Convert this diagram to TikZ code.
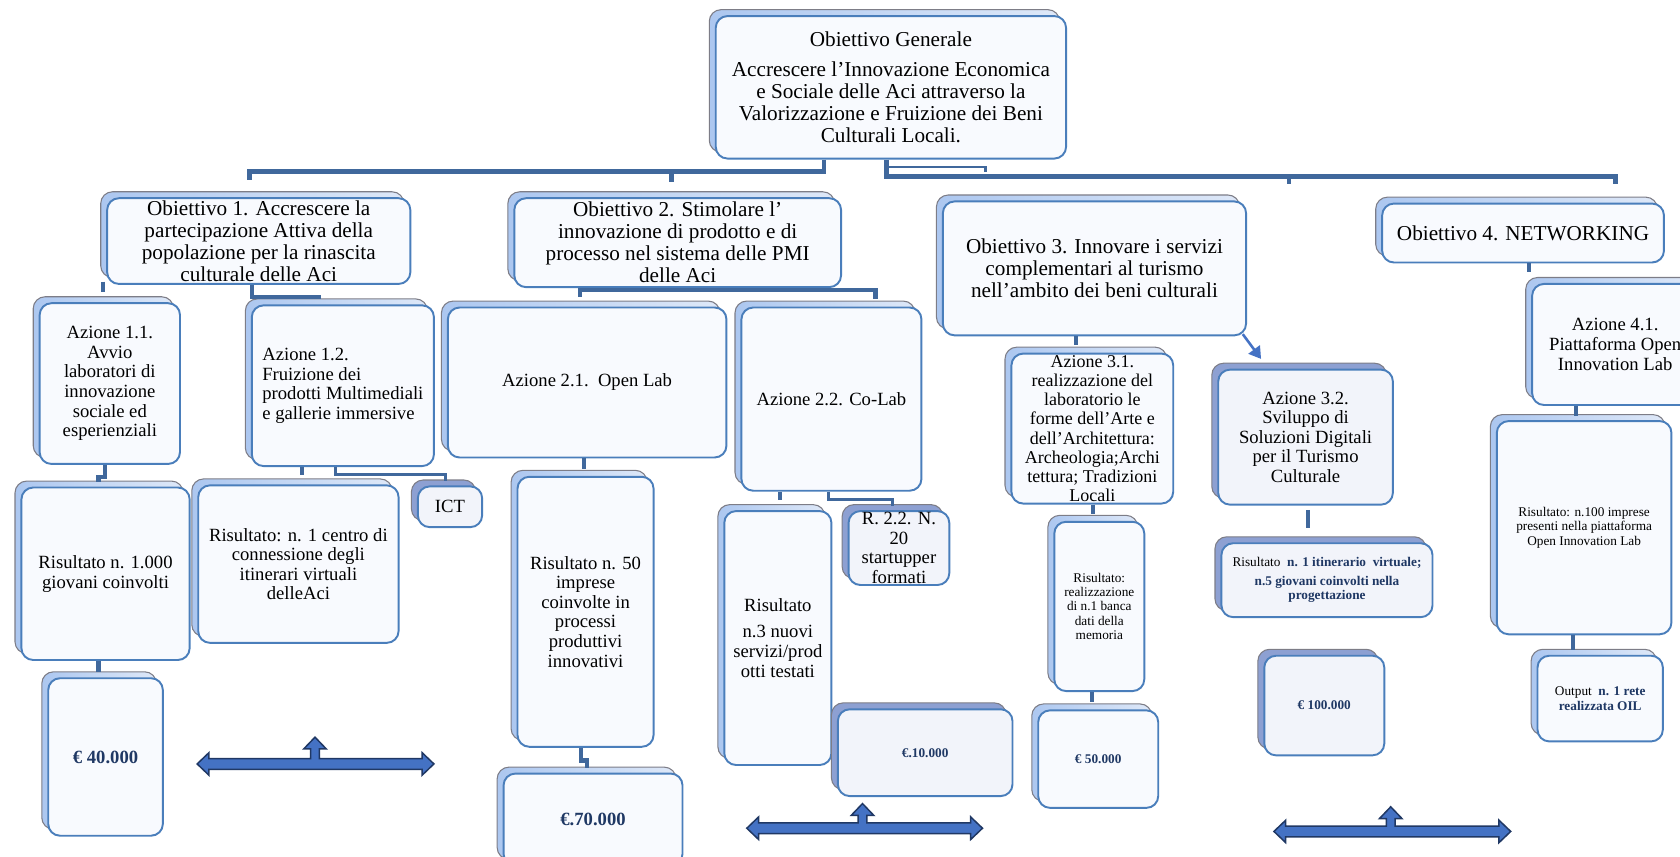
\documentclass[tikz,border=0pt]{standalone}
\usepackage{fontspec}
\setmainfont{Liberation Serif}
\usetikzlibrary{arrows.meta,calc}
\definecolor{boxblue}{RGB}{74,126,187}
\definecolor{frontfill}{RGB}{248,250,254}
\definecolor{frontfilldk}{RGB}{242,244,250}
\definecolor{backlt}{RGB}{172,199,240}
\definecolor{backlt2}{RGB}{222,232,248}
\definecolor{backdk}{RGB}{141,160,210}
\definecolor{backedge}{RGB}{125,125,135}
\definecolor{connblue}{RGB}{64,104,156}
\definecolor{navy}{RGB}{31,56,100}
\definecolor{arrowfill}{RGB}{68,114,196}
\definecolor{arrowedge}{RGB}{32,56,100}
\newcommand\fbig{\fontsize{19.8}{20.5}\selectfont}
\newcommand\fmid{\fontsize{17.4}{18.3}\selectfont}
\newcommand\fsml{\fontsize{12.4}{13.3}\selectfont}
\tikzset{
 backlight/.style={draw=backedge, line width=1pt, left color=backlt, right color=backlt2, rounded corners=11pt},
 backdark/.style={draw=backedge, line width=1pt, fill=backdk, rounded corners=11pt},
 frontbox/.style={draw=boxblue, line width=1.8pt, fill=frontfill, rounded corners=11pt, inner sep=0pt},
 frontdk/.style={frontbox, fill=frontfilldk},
 boxtext/.style={align=center, inner sep=0pt},
 conn/.style={draw=connblue, line width=4pt},
 connbar/.style={draw=connblue, line width=4.5pt},
 connthin/.style={draw=connblue, line width=2.6pt},
 connarrow/.style={draw=arrowfill, line width=2.4pt, -{Triangle[length=11pt,width=13pt]}},
 bigarrow/.style={fill=arrowfill, draw=arrowedge, line width=1.4pt, line join=miter}
}
% #1 back style, #2 front style, #3 name, #4 x1, #5 y1, #6 x2, #7 y2, #8 text options, #9 text
\newcommand\obox[9]{%
 \path[#1] ({#4-6},{#5-6}) rectangle ({#6-6},{#7-6});
 \node[#2, minimum width={#6-#4}, minimum height={#7-#5}] (#3) at ({(#4+#6)/2},{(#5+#7)/2}) {};
 \node[boxtext,#8] (#3-t) at (#3.center) {#9};
}
% x1 x2 cy ux ty
\newcommand\dblarrow[5]{%
 \path[bigarrow] (#1,#3) -- ({#1+11},{#3-10.5}) -- ({#1+11},{#3-5}) -- ({#4-4},{#3-5}) -- ({#4-4},{#5+11}) -- ({#4-10.5},{#5+11}) -- (#4,#5) -- ({#4+10.5},{#5+11}) -- ({#4+4},{#5+11}) -- ({#4+4},{#3-5}) -- ({#2-11},{#3-5}) -- ({#2-11},{#3-10.5}) -- (#2,#3) -- ({#2-11},{#3+10.5}) -- ({#2-11},{#3+5}) -- ({#1+11},{#3+5}) -- ({#1+11},{#3+10.5}) -- cycle;
}
\begin{document}
\begin{tikzpicture}[x=1pt,y=-1pt]
\useasboundingbox (0,0) rectangle (1568,799);
\clip (0,0) rectangle (1568,799);

% boxes
\obox{backlight}{frontbox}{main}{668}{15}{995}{148}{font=\fbig}{Obiettivo Generale\\[7.5pt]Accrescere l’Innovazione Economica\\e Sociale delle Aci attraverso la\\Valorizzazione e Fruizione dei Beni\\Culturali Locali.}
\obox{backlight}{frontbox}{ob1}{100}{185}{383}{265}{font=\fbig}{Obiettivo 1. Accrescere la\\partecipazione Attiva della\\popolazione per la rinascita\\culturale delle Aci}
\obox{backlight}{frontbox}{ob2}{480}{185}{785}{268}{font=\fbig}{Obiettivo 2. Stimolare l’\\innovazione di prodotto e di\\processo nel sistema delle PMI\\delle Aci}
\obox{backlight}{frontbox}{ob3}{880}{188}{1163}{313}{font=\fbig}{Obiettivo 3. Innovare i servizi\\complementari al turismo\\nell’ambito dei beni culturali}
\obox{backlight}{frontbox}{ob4}{1290}{190}{1553}{245}{font=\fbig}{Obiettivo 4. NETWORKING}

\obox{backlight}{frontbox}{az11}{37}{283}{168}{433}{font=\fmid}{Azione 1.1.\\Avvio\\laboratori di\\innovazione\\sociale ed\\esperienziali}
\obox{backlight}{frontbox}{az12}{235}{285}{405}{435}{font=\fmid, align=left}{Azione 1.2.\\Fruizione dei\\prodotti Multimediali\\e gallerie immersive}
\obox{backlight}{frontbox}{r11}{20}{455}{177}{616}{font=\fmid}{Risultato n. 1.000\\giovani coinvolti}
\obox{backlight}{frontbox}{r12}{185}{453}{372}{600}{font=\fmid}{Risultato: n. 1 centro di\\connessione degli\\itinerari virtuali\\delleAci}
\obox{backdark}{frontdk}{ict}{390}{454}{450}{492}{font=\fmid}{ICT}
\obox{backlight}{frontbox}{e40}{45}{633}{152}{780}{font=\fmid\bfseries, text=navy}{€ 40.000}

\obox{backlight}{frontbox}{az21}{418}{287}{678}{427}{font=\fmid}{Azione 2.1.\ \ Open Lab}
\obox{backlight}{frontbox}{az22}{692}{287}{860}{458}{font=\fmid}{Azione 2.2. Co-Lab}
\obox{backlight}{frontbox}{r21}{483}{445}{610}{697}{font=\fmid}{Risultato n. 50\\imprese\\coinvolte in\\processi\\produttivi\\innovativi}
\obox{backlight}{frontbox}{e70}{470}{722}{637}{808}{font=\fmid\bfseries, text=navy}{€.70.000}
\obox{backlight}{frontbox}{r22}{676}{477}{776}{714}{font=\fmid}{Risultato\\[6pt]n.3 nuovi\\servizi/prod\\otti testati}
\obox{backdark}{frontdk}{rr22}{792}{477}{886}{546}{font=\fmid}{R. 2.2. N.\\20\\startupper\\formati}
\obox{backdark}{frontdk}{e10}{782}{662}{945}{743}{font=\fsml\bfseries, text=navy}{€.10.000}

\obox{backlight}{frontbox}{az31}{944}{330}{1095}{470}{font=\fontsize{16.8}{17.9}\selectfont}{Azione 3.1.\\realizzazione del\\laboratorio le\\forme dell'Arte e\\dell'Architettura:\\Archeologia;Archi\\tettura; Tradizioni\\Locali}
\obox{backlight}{frontbox}{r31}{984}{487}{1068}{645}{font=\fsml}{Risultato:\\realizzazione\\di n.1 banca\\dati della\\memoria}
\obox{backlight}{frontbox}{e50}{969}{663}{1081}{754}{font=\fsml\bfseries, text=navy}{€ 50.000}
\obox{backdark}{frontdk}{az32}{1137}{345}{1300}{471}{font=\fmid}{Azione 3.2.\\Sviluppo di\\Soluzioni Digitali\\per il Turismo\\Culturale}
\obox{backdark}{frontdk}{r32}{1140}{507}{1337}{576}{font=\fsml}{Risultato\ \ \textcolor{navy}{\textbf{n. 1 itinerario\ \ virtuale;}}\\[4pt]\textcolor{navy}{\textbf{n.5 giovani coinvolti nella}}\\\textcolor{navy}{\textbf{progettazione}}}
\obox{backdark}{frontdk}{e100}{1180}{612}{1292}{705}{font=\fsml\bfseries, text=navy}{€ 100.000}

\obox{backlight}{frontbox}{az41}{1430}{265}{1585}{378}{font=\fmid}{Azione 4.1.\\Piattaforma Open\\Innovation Lab}
\obox{backlight}{frontbox}{r41}{1397}{393}{1560}{592}{font=\fsml}{Risultato: n.100 imprese\\presenti nella piattaforma\\Open Innovation Lab}
\obox{backlight}{frontbox}{out}{1435}{612}{1552}{692}{font=\fsml}{Output\ \ \textcolor{navy}{\textbf{n. 1 rete}}\\\textcolor{navy}{\textbf{realizzata OIL}}}

% connectors
\draw[connbar] ([xshift=102pt]main.south west) |- (233,160) -- (233,168) (627,160) -- (627,170);
\draw[connbar] ([xshift=160pt]main.south west) |- (1508,165) -- (1508,172) (1203,165) -- (1203,172);
\draw[connthin] ([xshift=160pt,yshift=-7pt]main.south west) -| (920,161);

\draw[conn] ([xshift=-3pt,yshift=3pt]ob1.south west) -- ++(0,10);
\draw[conn] ([xshift=-6.5pt]ob1.south) -- ++(0,11) -- ++(65,0);
\draw[conn] ([xshift=-4.5pt]az11.south) -- ++(0,11) -- ++(-6,0) -- ++(0,5);
\draw[conn] ([xshift=-6.5pt]r11.south) -- ++(0,10);
\draw[conn] ([xshift=-38pt]az12.south) -- ++(0,7);
\draw[connthin] ([xshift=-7pt]az12.south) -- ++(0,7) -- ++(103,0) -- ++(0,6);

\draw[conn] ([xshift=-91.5pt,yshift=-8pt]ob2.south) -- ++(0,-6) -- ++(276,0) -- ++(0,8);
\draw[conn] ([xshift=-3pt]az21.south) -- ++(0,10);
\draw[conn] ([xshift=-4.5pt]r21.south) -- ++(0,12) -- ++(6,0) -- ++(0,7);
\draw[conn] ([xshift=-48pt]az22.south) -- ++(0,8);
\draw[connthin] ([xshift=-3pt]az22.south) -- ++(0,7) -- ++(60,0) -- ++(0,6);

\draw[conn] ([xshift=-17.5pt]ob3.south) -- ++(0,8);
\coordinate (a32tip) at (1177,335);
\draw[connarrow] ([xshift=-4pt,yshift=2pt]ob3.south east) -- (a32tip);
\draw[conn] ([xshift=0.5pt]az31.south) -- ++(0,9);
\draw[conn] ([xshift=-7pt]r31.south) -- ++(0,9);
\draw[conn] ([xshift=2.5pt,yshift=-4pt]az32.south) -- ++(0,17);

\draw[conn] ([xshift=5.5pt]ob4.south) -- ++(0,8);
\draw[conn] ([xshift=-36.5pt]az41.south) -- ++(0,9);
\draw[conn] ([xshift=-10.5pt]r41.south) -- ++(0,14);

% big double arrows
\dblarrow{184}{405}{713}{294}{688}
\dblarrow{697}{917}{773}{805}{750}
\dblarrow{1189}{1410}{776}{1298}{753}
\end{tikzpicture}
\end{document}
